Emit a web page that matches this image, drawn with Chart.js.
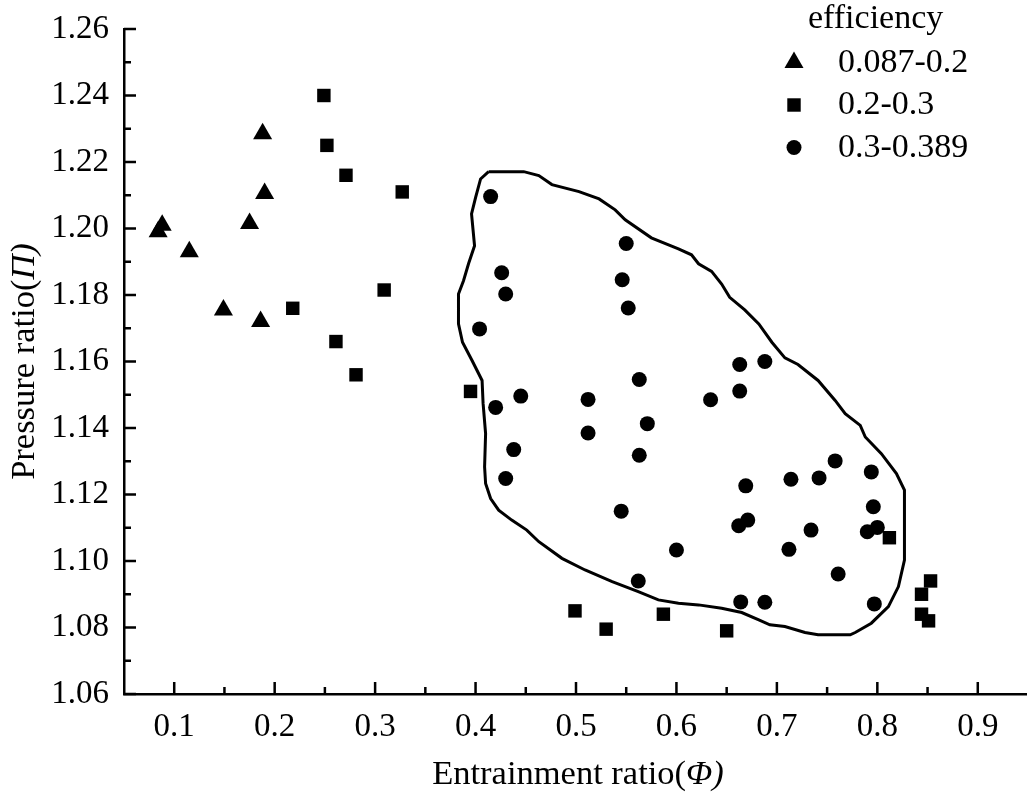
<!DOCTYPE html>
<html>
<head>
<meta charset="utf-8">
<script src="https://cdn.jsdelivr.net/npm/chart.js@4.4.1/dist/chart.umd.min.js"></script>
<style>
  html, body { margin: 0; padding: 0; background: #fff; overflow: hidden; }
  #wrap { width: 1039px; height: 796px; }
</style>
</head>
<body>
<div id="wrap"><canvas id="effChart" width="1039" height="796"></canvas></div>
<script>
// data
const legendTitle = 'efficiency';
const seriesLabels = ['0.087-0.2', '0.2-0.3', '0.3-0.389'];

const lowX = [0.084, 0.088, 0.115, 0.149, 0.175, 0.186, 0.188, 0.190];
const lowY = [1.199, 1.201, 1.193, 1.1755, 1.2015, 1.172, 1.2285, 1.2105];

const midX = [0.249, 0.252, 0.271, 0.327, 0.309, 0.218, 0.261, 0.281, 0.395,
              0.499, 0.530, 0.587, 0.650, 0.812, 0.853, 0.844, 0.844, 0.851];
const midY = [1.240, 1.225, 1.216, 1.211, 1.1815, 1.176, 1.166, 1.156, 1.151,
              1.085, 1.0795, 1.084, 1.079, 1.107, 1.094, 1.090, 1.084, 1.082];

const highX = [0.415, 0.550, 0.426, 0.546, 0.430, 0.552, 0.404, 0.563, 0.445, 0.512,
               0.420, 0.571, 0.512, 0.438, 0.563, 0.430, 0.545, 0.600, 0.562, 0.634,
               0.663, 0.688, 0.663, 0.758, 0.794, 0.669, 0.714, 0.742, 0.796, 0.662,
               0.671, 0.734, 0.790, 0.800, 0.712, 0.761, 0.664, 0.688, 0.797];
const highY = [1.2096, 1.1955, 1.1867, 1.1846, 1.1803, 1.1761, 1.1698, 1.1546, 1.1496, 1.1486,
               1.1462, 1.1413, 1.1385, 1.1335, 1.1318, 1.1248, 1.115, 1.1033, 1.094, 1.1485,
               1.1591, 1.160, 1.1511, 1.1301, 1.1268, 1.1226, 1.1246, 1.125, 1.1163, 1.1106,
               1.1123, 1.1093, 1.1088, 1.1101, 1.1035, 1.0961, 1.0877, 1.0876, 1.0871];

// hand drawn boundary round the high efficiency zone
const contourX = [0.413, 0.448, 0.463, 0.476, 0.503, 0.523, 0.539, 0.549, 0.575, 0.602,
                  0.615, 0.622, 0.635, 0.645, 0.653, 0.668, 0.682, 0.695, 0.708, 0.721,
                  0.741, 0.758, 0.768, 0.783, 0.788, 0.804, 0.819, 0.827, 0.827, 0.827,
                  0.821, 0.811, 0.794, 0.778, 0.773, 0.741, 0.728, 0.708, 0.693, 0.682,
                  0.665, 0.645, 0.622, 0.602, 0.582, 0.562, 0.536, 0.509, 0.486, 0.463,
                  0.451, 0.436, 0.423, 0.415, 0.410, 0.409, 0.410, 0.4075, 0.4065, 0.3965,
                  0.387, 0.383, 0.383, 0.388, 0.393, 0.399, 0.396, 0.400, 0.405, 0.413];
const contourY = [1.2171, 1.2171, 1.2159, 1.2132, 1.2111, 1.2089, 1.2056, 1.2026, 1.1972, 1.1939,
                  1.1921, 1.1894, 1.1871, 1.1833, 1.1793, 1.1755, 1.1713, 1.1658, 1.1611, 1.1591,
                  1.1543, 1.1483, 1.1443, 1.1408, 1.1373, 1.1323, 1.1263, 1.1213, 1.1103, 1.1003,
                  1.0923, 1.0863, 1.0813, 1.0785, 1.0778, 1.0778, 1.0785, 1.0803, 1.0808, 1.0823,
                  1.0845, 1.0858, 1.0868, 1.0873, 1.0883, 1.0908, 1.0938, 1.0973, 1.1008, 1.1058,
                  1.1093, 1.1123, 1.1153, 1.1188, 1.1233, 1.1283, 1.1383, 1.1474, 1.1543, 1.1603,
                  1.1658, 1.1713, 1.1803, 1.1843, 1.1894, 1.1948, 1.2044, 1.2093, 1.2149, 1.2171];

const xTicks = [0.1, 0.2, 0.3, 0.4, 0.5, 0.6, 0.7, 0.8, 0.9];
const xTickLabels = ['0.1', '0.2', '0.3', '0.4', '0.5', '0.6', '0.7', '0.8', '0.9'];
const yTicks = [1.06, 1.08, 1.10, 1.12, 1.14, 1.16, 1.18, 1.20, 1.22, 1.24, 1.26];
const yTickLabels = ['1.06', '1.08', '1.10', '1.12', '1.14', '1.16', '1.18', '1.20', '1.22', '1.24', '1.26'];

const serif = "'Liberation Serif', 'Times New Roman', serif";
const toPoints = (xs, ys) => xs.map((x, i) => ({ x: x, y: ys[i] }));

// inward tick marks, major + minor
const axisTicks = {
    id: 'axisTicks',
    afterDatasetsDraw(chart) {
        const { ctx, chartArea, scales } = chart;
        ctx.save();
        ctx.strokeStyle = '#000';
        ctx.lineWidth = 2.5;
        ctx.beginPath();
        xTicks.forEach((v, i) => {
            const px = scales.x.getPixelForValue(v);
            ctx.moveTo(px, chartArea.bottom);
            ctx.lineTo(px, chartArea.bottom - 12);
            if (i < xTicks.length - 1) {
                const mx = scales.x.getPixelForValue((v + xTicks[i + 1]) / 2);
                ctx.moveTo(mx, chartArea.bottom);
                ctx.lineTo(mx, chartArea.bottom - 7);
            }
        });
        yTicks.forEach((v, i) => {
            const py = scales.y.getPixelForValue(v);
            ctx.moveTo(chartArea.left, py);
            ctx.lineTo(chartArea.left + 12, py);
            if (i < yTicks.length - 1) {
                const my = scales.y.getPixelForValue((v + yTicks[i + 1]) / 2);
                ctx.moveTo(chartArea.left, my);
                ctx.lineTo(chartArea.left + 7, my);
            }
        });
        ctx.stroke();
        ctx.restore();
    }
};

// axis titles with italic greek symbol
function mixedText(ctx, parts, x, y) {
    let total = 0;
    parts.forEach(p => { ctx.font = p[1]; total += ctx.measureText(p[0]).width; });
    let cx = x - total / 2;
    parts.forEach(p => {
        ctx.font = p[1];
        ctx.fillText(p[0], cx, y);
        cx += ctx.measureText(p[0]).width;
    });
}
const axisTitles = {
    id: 'axisTitles',
    afterDraw(chart) {
        const { ctx, chartArea } = chart;
        const reg = '34.5px ' + serif, ita = 'italic 34.5px ' + serif;
        ctx.save();
        ctx.fillStyle = '#000';
        ctx.textAlign = 'left';
        ctx.textBaseline = 'alphabetic';
        mixedText(ctx, [['Entrainment ratio(', reg], ['\u03A6)', ita]],
                  (chartArea.left + chartArea.right) / 2 + 2, 784);
        ctx.translate(34, (chartArea.top + chartArea.bottom) / 2);
        ctx.rotate(-Math.PI / 2);
        mixedText(ctx, [['Pressure ratio(', reg], ['\u03A0)', ita]], 0, 0);
        ctx.restore();
    }
};

// legend in the top right corner
const cornerLegend = {
    id: 'cornerLegend',
    afterDraw(chart) {
        const { ctx } = chart;
        ctx.save();
        ctx.fillStyle = '#000';
        ctx.font = '34px ' + serif;
        ctx.textBaseline = 'alphabetic';
        ctx.fillText(legendTitle, 808, 28);
        chart.data.datasets.forEach((ds, i) => {
            if (!ds.label) return;
            const base = 71.5 + (i - 1) * 42.5;
            Chart.helpers.drawPoint(ctx, {
                pointStyle: ds.pointStyle, radius: ds.pointRadius,
                rotation: 0, borderWidth: 0
            }, 794, base - 9);
            ctx.fillText(ds.label, 838, base);
        });
        ctx.restore();
    }
};

const ctx = document.getElementById('effChart').getContext('2d');

const effChart = new Chart(ctx, {
    type: 'scatter',
    data: {
        datasets: [{
            data: toPoints(contourX, contourY),
            showLine: true,
            pointRadius: 0,
            borderColor: '#000',
            borderWidth: 3,
            fill: false,
            tension: 0,
            order: 5
        }, {
            label: seriesLabels[0],
            data: toPoints(lowX, lowY),
            pointStyle: 'triangle',
            pointRadius: 11,
            backgroundColor: '#000',
            borderWidth: 0,
            order: 1
        }, {
            label: seriesLabels[1],
            data: toPoints(midX, midY),
            pointStyle: 'rect',
            pointRadius: 9.5,
            backgroundColor: '#000',
            borderWidth: 0,
            order: 1
        }, {
            label: seriesLabels[2],
            data: toPoints(highX, highY),
            pointStyle: 'circle',
            pointRadius: 7.5,
            backgroundColor: '#000',
            borderWidth: 0,
            order: 1
        }]
    },
    options: {
        responsive: false,
        animation: false,
        devicePixelRatio: 1,
        events: [],
        layout: { padding: { top: 29, right: 2, left: 0, bottom: 0 } },
        plugins: {
            legend: { display: false },
            tooltip: { enabled: false }
        },
        scales: {
            x: {
                type: 'linear',
                min: 0.05,
                max: 0.95,
                afterBuildTicks: s => { s.ticks = xTicks.map(v => ({ value: v })); },
                afterFit: s => { s.height = 102; s.paddingLeft = 0; s.paddingRight = 0; },
                grid: { display: false, drawTicks: false },
                border: { display: true, color: '#000', width: 2.5 },
                ticks: {
                    autoSkip: false,
                    maxRotation: 0,
                    padding: 14,
                    color: '#000',
                    font: { family: serif, size: 33 },
                    callback: (v, i) => xTickLabels[i]
                }
            },
            y: {
                type: 'linear',
                min: 1.06,
                max: 1.26,
                afterBuildTicks: s => { s.ticks = yTicks.map(v => ({ value: v })); },
                afterFit: s => { s.width = 124; s.paddingTop = 0; s.paddingBottom = 0; },
                grid: { display: false, drawTicks: false },
                border: { display: true, color: '#000', width: 2.5 },
                ticks: {
                    autoSkip: false,
                    padding: 15,
                    color: '#000',
                    font: { family: serif, size: 33 },
                    callback: (v, i) => yTickLabels[i]
                }
            }
        }
    },
    plugins: [axisTicks, axisTitles, cornerLegend]
});
</script>
</body>
</html>
